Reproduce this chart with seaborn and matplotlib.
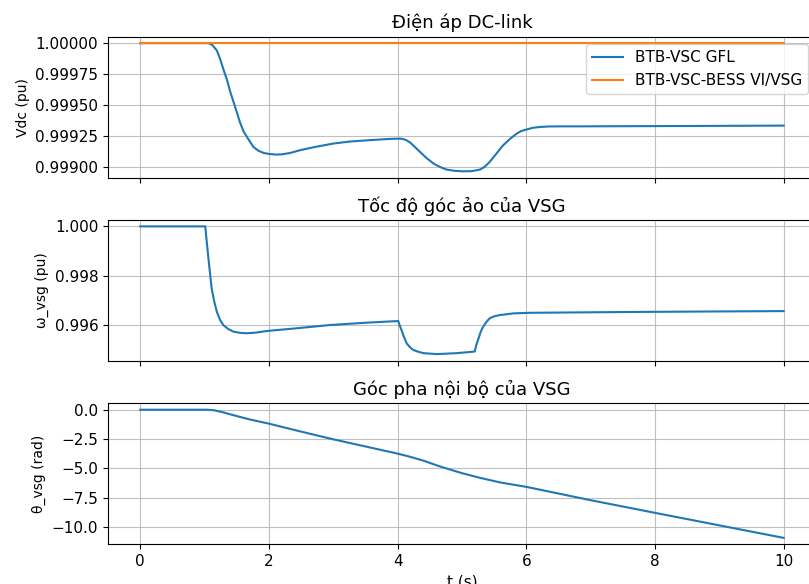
import numpy as np
import seaborn as sns
import matplotlib.pyplot as plt
from matplotlib.ticker import MultipleLocator

# DC-link voltage, GFL case (pu)
t_vdc = [0, 1.06, 1.12, 1.19, 1.24, 1.29, 1.35, 1.40, 1.45, 1.50, 1.55, 1.61, 1.68, 1.76, 1.84,
         1.92, 2.0, 2.12, 2.2, 2.33, 2.48, 2.7, 3.0, 3.25, 3.52, 3.73, 3.9, 4.04, 4.09, 4.14, 4.2,
         4.35, 4.45, 4.56, 4.66, 4.76, 4.9, 5.02, 5.15, 5.28, 5.35, 5.43, 5.5, 5.57, 5.64, 5.75,
         5.85, 5.92, 6.0, 6.1, 6.21, 6.35, 6.52, 6.83, 8.0, 10.0]
vdc_gfl = [1.0, 1.0, 0.999985, 0.999941, 0.999875, 0.999793, 0.999700, 0.999605, 0.999525,
           0.999444, 0.999360, 0.999282, 0.999225, 0.999161, 0.999130, 0.999113, 0.999105,
           0.999100, 0.999102, 0.999113, 0.999135, 0.999160, 0.999189, 0.999205, 0.999215,
           0.999222, 0.999227, 0.999229, 0.999225, 0.999215, 0.999195, 0.999121, 0.999072,
           0.999027, 0.999000, 0.998979, 0.998968, 0.998965, 0.998966, 0.998979, 0.999000,
           0.999040, 0.999085, 0.999130, 0.999175, 0.999228, 0.999269, 0.999290, 0.999302,
           0.999316, 0.999323, 0.999327, 0.999328, 0.999328, 0.999330, 0.999334]

# DC-link voltage, BESS VI/VSG case (pu)
t_vdc_vsg = [0, 10.0]
vdc_vsg = [1.0, 1.0]

# VSG virtual speed (pu)
t_w = [0, 1.01, 1.06, 1.11, 1.15, 1.19, 1.24, 1.29, 1.37, 1.45, 1.55, 1.66, 1.8, 1.97, 2.43,
       2.95, 3.5, 4.01, 4.03, 4.06, 4.10, 4.14, 4.19, 4.24, 4.32, 4.40, 4.61, 4.92, 5.20, 5.22,
       5.25, 5.29, 5.33, 5.38, 5.43, 5.5, 5.59, 5.80, 6.06, 7.0, 8.0, 10.0]
w_vsg = [1.0, 1.0, 0.998683, 0.997471, 0.996950, 0.996525, 0.996200, 0.995988, 0.995820,
         0.995717, 0.995670, 0.995652, 0.995680, 0.995745, 0.995855, 0.995988, 0.996080,
         0.996150, 0.995990, 0.995786, 0.995500, 0.995248, 0.995090, 0.994978, 0.994900,
         0.994844, 0.994804, 0.994844, 0.994909, 0.995150, 0.995382, 0.995700, 0.995919,
         0.996110, 0.996259, 0.996340, 0.996392, 0.996461, 0.996485, 0.996505, 0.996525,
         0.996554]

# VSG internal phase angle (rad)
t_th = [0, 1.04, 1.15, 1.3, 1.45, 1.7, 2.0, 2.5, 3.0, 3.5, 4.0, 4.2, 4.4, 4.66, 5.0, 5.28, 5.6,
        6.0, 7.0, 8.0, 9.0, 10.0]
th_vsg = [0, 0, -0.05, -0.24, -0.47, -0.83, -1.19, -1.87, -2.53, -3.14, -3.75, -4.03, -4.35,
          -4.85, -5.42, -5.82, -6.22, -6.59, -7.73, -8.81, -9.88, -10.95]

fig = plt.figure(figsize=(8.09, 5.84), dpi=100)
# axes run a bit past the right edge, like the cropped original
ax1 = fig.add_axes([0.1336, 0.6957, 0.8748, 0.2414])
ax2 = fig.add_axes([0.1336, 0.3827, 0.8748, 0.2406], sharex=ax1)
ax3 = fig.add_axes([0.1336, 0.0680, 0.8748, 0.2414], sharex=ax1)

sns.lineplot(x=t_vdc, y=vdc_gfl, ax=ax1, color='tab:blue', label='BTB-VSC GFL')
sns.lineplot(x=t_vdc_vsg, y=vdc_vsg, ax=ax1, color='tab:orange', label='BTB-VSC-BESS VI/VSG')
ax1.set_title('Điện áp DC-link', fontsize=13)
ax1.set_ylabel('Vdc (pu)')
ax1.legend(loc='upper right', fontsize=11)
ax1.yaxis.set_major_locator(MultipleLocator(0.00025))

sns.lineplot(x=t_w, y=w_vsg, ax=ax2, color='tab:blue')
ax2.set_title('Tốc độ góc ảo của VSG', fontsize=13)
ax2.set_ylabel('ω_vsg (pu)')
ax2.yaxis.set_major_locator(MultipleLocator(0.002))

sns.lineplot(x=t_th, y=th_vsg, ax=ax3, color='tab:blue')
ax3.set_title('Góc pha nội bộ của VSG', fontsize=13)
ax3.set_ylabel('θ_vsg (rad)')
ax3.set_xlabel('t (s)', fontsize=11)
ax3.yaxis.set_major_locator(MultipleLocator(2.5))
ax3.xaxis.set_major_locator(MultipleLocator(2))

for ax in (ax1, ax2, ax3):
    ax.grid(True, alpha=0.8)
    ax.tick_params(labelsize=11)
for ax in (ax1, ax2):
    ax.tick_params(labelbottom=False)

fig.savefig('out.png', dpi=100)
